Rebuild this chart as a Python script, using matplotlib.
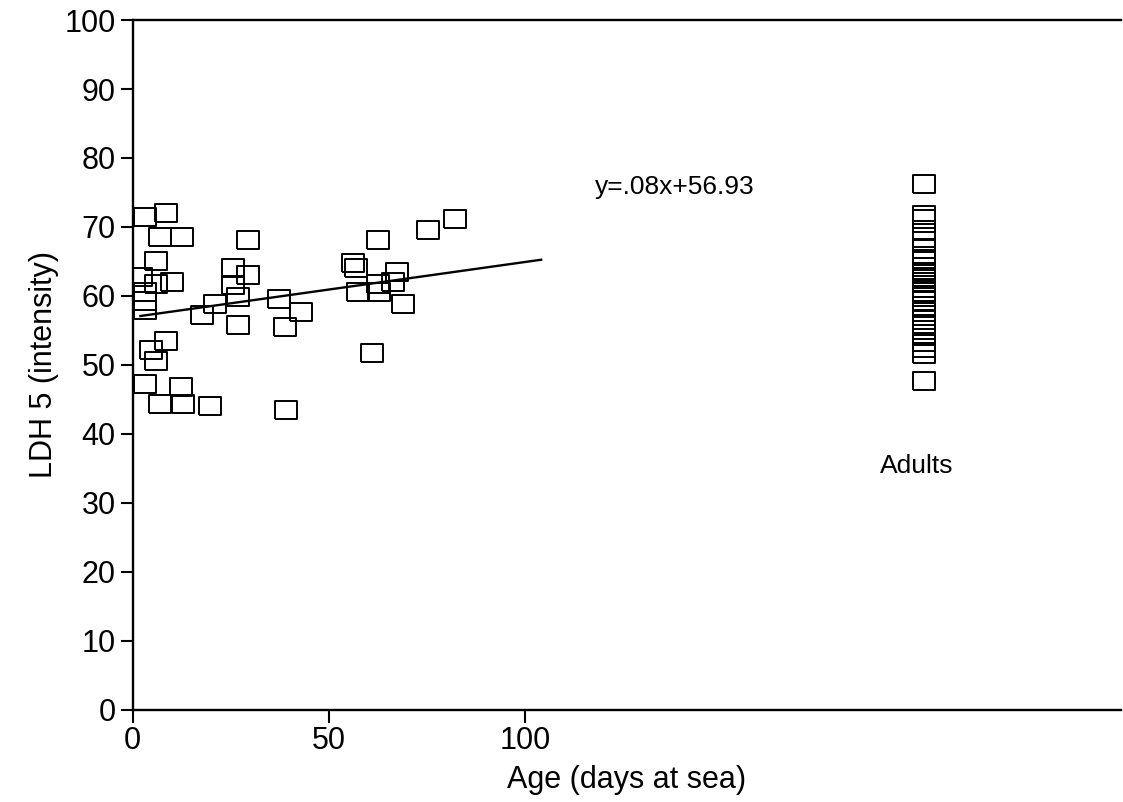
import matplotlib.pyplot as plt
import numpy as np

plt.rcParams['font.family'] = ['Liberation Sans', 'DejaVu Sans']

# juveniles: age (days at sea) vs LDH 5 intensity
age = [3.1, 8.6, 7.0, 12.5, 29.5, 6.0, 25.7, 25.7, 29.5, 2.2, 5.9, 10.0,
       3.2, 3.2, 3.2, 21.0, 26.8, 17.6, 26.8, 37.4, 42.9, 38.8, 8.6, 4.8,
       6.0, 3.2, 12.4, 7.0, 12.8, 19.7, 39.1,
       62.6, 75.1, 82.1, 56.1, 56.9, 67.3, 62.6, 66.4, 57.3, 62.8, 68.8, 61.0]
ldh = [71.5, 72.0, 68.6, 68.6, 68.1, 65.1, 64.0, 61.6, 63.0, 62.8, 61.8, 62.0,
       60.6, 59.2, 58.0, 58.9, 59.8, 57.2, 55.8, 59.6, 57.6, 55.5, 53.4, 52.2,
       50.5, 47.2, 46.8, 44.3, 44.4, 44.1, 43.4,
       68.1, 69.5, 71.2, 64.8, 64.1, 63.5, 61.8, 62.0, 60.5, 60.5, 58.9, 51.7]

# adults (plotted in a separate column)
adult_x = 201.5
adult_ldh = [76.2, 71.7, 71.2, 69.5, 68.0, 66.8, 65.8, 65.0, 64.2, 63.5, 62.8,
             62.0, 61.2, 60.5, 59.8, 59.2, 58.5, 57.6, 56.5, 55.6, 54.5, 53.3,
             52.5, 51.6, 47.7]

slope = 0.08
intercept = 56.93
fit_range = [2, 104]

fig = plt.figure(figsize=(11.23, 8.02), dpi=100)
ax = fig.add_axes([0.118, 0.115, 0.88, 0.86])

box = [(-1, -0.8), (1, -0.8), (1, 0.8), (-1, 0.8), (-1, -0.8)]
ax.plot(age, ldh, linestyle='none', marker=box, markersize=16,
        markerfacecolor='none', markeredgecolor='black', markeredgewidth=1.4)
ax.plot([adult_x] * len(adult_ldh), adult_ldh, linestyle='none', marker=box,
        markersize=16, markerfacecolor='none', markeredgecolor='black',
        markeredgewidth=1.4)

fx = np.array(fit_range)
ax.plot(fx, slope * fx + intercept, color='black', linewidth=1.7)

ax.text(117.8, 75.8, 'y=.08x+56.93', fontsize=19, va='center', ha='left')
ax.text(199.5, 35.4, 'Adults', fontsize=19, va='center', ha='center')

ax.set_xlim(0, 251.5)
ax.set_ylim(0, 100)
ax.set_xticks([0, 50, 100])
ax.set_yticks(range(0, 101, 10))
ax.tick_params(labelsize=22, length=9, width=1.5, direction='out', pad=3)
for s in ['left', 'bottom', 'top']:
    ax.spines[s].set_linewidth(1.7)
ax.spines['right'].set_visible(False)

ax.set_xlabel('Age (days at sea)', fontsize=22, labelpad=6)
ax.set_ylabel('LDH 5 (intensity)', fontsize=22, labelpad=4)

fig.savefig('out.png', dpi=100)
